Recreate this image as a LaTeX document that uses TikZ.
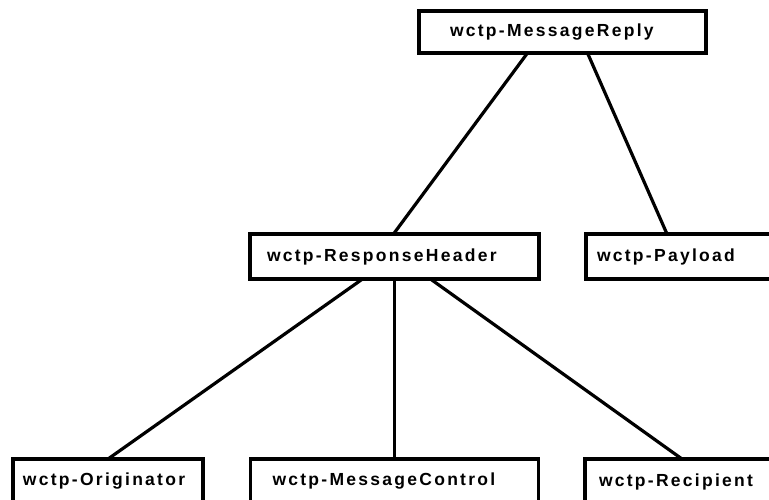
\documentclass[tikz,border=0pt]{standalone}
\usepackage{fontspec}
\newfontfamily\wctpfont[LetterSpace=13]{Liberation Sans}

\begin{document}
\begin{tikzpicture}[x=1pt,y=-1pt,line width=3.2pt,
                    box/.style={draw,anchor=north west,outer sep=0pt,inner ysep=0pt,align=left,
                                minimum height=45pt,font=\wctpfont\bfseries\fontsize{17.5}{20}\selectfont}]
  \useasboundingbox (0,0) rectangle (769,499);
  \clip (0,0) rectangle (769,499);
  \node[box,minimum height=42pt,inner xsep=31pt,text width=225pt] (reply) at (419,11) {wctp-MessageReply};
  \node[box,inner xsep=17pt,text width=255pt] (header) at (250,234) {wctp-ResponseHeader};
  \node[box,inner xsep=11pt,text width=178pt] (payload) at (586,234) {wctp-Payload};
  \node[box,inner xsep=10pt,text width=170pt] (orig) at (13,459) {wctp-Originator};
  \node[box,inner xsep=22pt,text width=244pt] (control) at (250.5,459) {wctp-MessageControl};
  \node[box,inner xsep=14pt,text width=172pt] (recip) at (585,459) {wctp-Recipient};
  \path
    ([xshift=-35pt]reply.south) edge ([xshift=-1pt]header.north)
    ([xshift=25pt]reply.south) edge ([xshift=81pt]payload.north west)
    ([xshift=-32pt]header.south) edge (orig.north)
    (header.south) edge (control.north)
    ([xshift=36pt]header.south) edge ([xshift=97pt]recip.north west);
\end{tikzpicture}
\end{document}
